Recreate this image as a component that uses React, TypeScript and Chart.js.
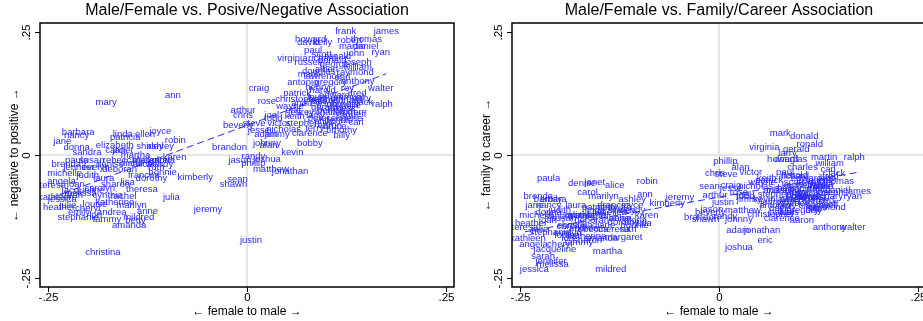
import { useEffect, useRef } from "react";
import { Chart, registerables } from "chart.js";
Chart.register(...registerables);

const names = [
  "frank","james","howard","thomas","robert","daniel","martin","david","kelly","paul",
  "ryan","john","scott","virginia","richard","joseph","russell","george","douglas","raymond",
  "lawrence","anthony","antonio","henry","roy","walter","craig","patrick","christopher","gary",
  "jack","ralph","rose","wayne","gerald","joel","arthur","larry","steve","victor",
  "stephen","carl","jesse","nicholas","timothy","clarence","adam","jimmy","billy","johnny",
  "alan","bobby","kevin","beverly","brandon","jason","joshua","randy","phillip","matthew",
  "jonathan","sean","shawn","justin","jeremy","mark","donald","ronald","william","todd",
  "eric","aaron","kimberly","chris","edward","kenneth","michael","charles","peter","samuel",
  "andrew","dennis","harold","roger","keith","terry","fred","earl","albert","bruce",
  "jeffrey","gregory","louis","eugene","jerry","ernest","willie","jose","sam","benjamin",
  "philip","jeff","tony","leonard",
  "mary","ann","barbara","nancy","linda","jane","patricia","ellen","joyce","robin",
  "donna","elizabeth","ashley","shirley","sandra","martha","margaret","karen","deborah","jennifer",
  "michelle","bonnie","angela","teresa","theresa","julia","katherine","kathleen","marilyn","heather",
  "jessica","louise","anne","andrea","emily","stephanie","mildred","tammy","amanda","christina",
  "paula","denise","janet","alice","carol","brenda","helen","ruth","jacqueline","sarah",
  "melissa","laura","lisa","susan","dorothy","betty","carolyn","judith","rebecca","cynthia",
  "gloria","evelyn","frances","joan","diane","julie","sharon","cheryl","wendy","rachel","lori"
];

// female (-) to male (+)
const femaleToMale = [
  0.124,0.175,0.080,0.150,0.129,0.149,0.132,0.077,0.095,0.083,
  0.168,0.136,0.094,0.057,0.095,0.139,0.077,0.110,0.090,0.136,
  0.095,0.139,0.070,0.088,0.126,0.168,0.015,0.063,0.065,0.144,
  0.148,0.170,0.025,0.054,0.097,0.031,-0.005,0.086,0.009,0.040,
  0.070,0.137,0.015,0.046,0.119,0.079,0.024,0.038,0.119,0.025,
  0.027,0.079,0.057,-0.011,-0.022,-0.009,0.025,0.008,0.008,0.030,
  0.054,-0.012,-0.017,0.005,-0.049,0.077,0.107,0.114,0.139,0.033,
  0.058,0.104,-0.065,-0.005,0.110,0.100,0.120,0.105,0.090,0.128,
  0.075,0.115,0.095,0.130,0.060,0.085,0.140,0.120,0.100,0.110,
  0.068,0.105,0.088,0.125,0.100,0.118,0.130,0.090,0.122,0.112,
  0.098,0.142,0.108,0.125,
  -0.177,-0.093,-0.212,-0.214,-0.156,-0.232,-0.153,-0.128,-0.109,-0.090,
  -0.214,-0.166,-0.109,-0.122,-0.201,-0.140,-0.120,-0.091,-0.160,-0.211,
  -0.229,-0.106,-0.233,-0.244,-0.132,-0.095,-0.166,-0.240,-0.145,-0.236,
  -0.232,-0.191,-0.125,-0.170,-0.211,-0.212,-0.136,-0.176,-0.148,-0.181,
  -0.214,-0.172,-0.156,-0.131,-0.165,-0.227,-0.124,-0.114,-0.206,-0.221,
  -0.209,-0.180,-0.150,-0.195,-0.120,-0.140,-0.185,-0.200,-0.160,-0.175,
  -0.105,-0.190,-0.130,-0.215,-0.145,-0.225,-0.165,-0.200,-0.110,-0.155,-0.190
];

// negative (-) to positive (+)
const negToPos = [
  0.250,0.250,0.234,0.234,0.232,0.220,0.220,0.228,0.228,0.213,
  0.209,0.207,0.205,0.197,0.197,0.189,0.189,0.183,0.169,0.167,
  0.159,0.150,0.148,0.138,0.136,0.136,0.136,0.126,0.112,0.114,
  0.106,0.102,0.108,0.098,0.096,0.081,0.091,0.081,0.065,0.065,
  0.065,0.067,0.049,0.053,0.051,0.043,0.041,0.041,0.039,0.024,
  0.020,0.024,0.006,0.061,0.016,-0.010,-0.008,-0.002,-0.018,-0.030,
  -0.033,-0.049,-0.059,-0.173,-0.110,0.163,0.193,0.201,0.177,0.075,
  0.091,0.061,-0.045,0.080,0.122,0.112,0.102,0.087,0.075,0.118,
  0.104,0.071,0.132,0.087,0.079,0.055,0.126,0.157,0.173,0.059,
  0.087,0.148,0.118,0.075,0.110,0.095,0.100,0.108,0.080,0.090,
  0.068,0.083,0.102,0.110,
  0.106,0.122,0.045,0.039,0.041,0.028,0.035,0.041,0.047,0.030,
  0.016,0.020,0.018,0.018,0.006,0.000,-0.010,-0.004,-0.030,-0.026,
  -0.037,-0.035,-0.053,-0.061,-0.069,-0.087,-0.096,-0.087,-0.102,-0.106,
  -0.091,-0.100,-0.114,-0.116,-0.116,-0.126,-0.126,-0.130,-0.142,-0.197,
  -0.010,-0.020,0.010,-0.020,0.010,-0.020,-0.010,-0.026,-0.071,-0.081,
  -0.077,-0.047,-0.055,-0.010,-0.047,-0.132,-0.067,-0.041,-0.010,-0.081,
  -0.010,-0.026,-0.041,-0.059,-0.016,-0.102,-0.059,-0.108,-0.020,-0.083,-0.122
];

// family (-) to career (+)
const famToCareer = [
  -0.061,-0.073,-0.008,-0.053,-0.063,-0.071,-0.004,-0.108,-0.081,-0.035,
  -0.085,-0.047,-0.055,0.016,-0.043,-0.075,-0.071,-0.083,-0.008,-0.106,
  -0.091,-0.146,-0.102,-0.067,-0.091,-0.146,-0.061,-0.051,-0.120,-0.083,
  -0.037,-0.004,-0.075,-0.055,0.012,-0.081,-0.081,0.004,-0.039,-0.035,
  -0.079,-0.030,-0.067,-0.063,-0.102,-0.128,-0.154,-0.091,-0.112,-0.130,
  -0.026,-0.116,-0.091,-0.116,-0.126,-0.110,-0.187,-0.124,-0.012,-0.112,
  -0.154,-0.063,-0.130,-0.096,-0.087,0.043,0.037,0.022,-0.018,-0.085,
  -0.173,-0.132,-0.098,-0.037,-0.047,-0.061,-0.075,-0.026,-0.091,-0.102,
  -0.071,-0.087,-0.041,-0.055,-0.047,-0.104,-0.043,-0.067,-0.098,-0.079,
  -0.096,-0.112,-0.116,-0.051,-0.075,-0.087,-0.063,-0.094,-0.108,-0.070,
  -0.083,-0.100,-0.059,-0.092,
  -0.122,-0.079,-0.091,-0.102,-0.112,-0.102,-0.106,-0.116,-0.102,-0.053,
  -0.116,-0.122,-0.091,-0.112,-0.124,-0.195,-0.167,-0.122,-0.132,-0.215,
  -0.122,-0.142,-0.181,-0.146,-0.152,-0.138,-0.165,-0.169,-0.083,-0.138,
  -0.232,-0.163,-0.128,-0.148,-0.091,-0.157,-0.232,-0.177,-0.169,-0.142,
  -0.047,-0.057,-0.055,-0.061,-0.075,-0.083,-0.128,-0.150,-0.191,-0.205,
  -0.222,-0.102,-0.116,-0.128,-0.136,-0.106,-0.144,-0.112,-0.152,-0.122,
  -0.132,-0.159,-0.102,-0.132,-0.142,-0.152,-0.173,-0.181,-0.112,-0.122,-0.169
];

// fitted lines (end points)
const fitX = [-0.244, 0.175];
const posFitY = [-0.086, 0.165];
const careerFitY = [-0.156, -0.035];

const tickValues = [-0.25, 0, 0.25];
const tickLabels = ["-.25", "0", ".25"];

const LABEL_COLOR = "rgb(40,40,255)";
const FONT = '"Liberation Sans", Arial, Helvetica, sans-serif';

const decor = {
  id: "decor",
  beforeDatasetsDraw(chart: any) {
    const { ctx, chartArea: a, scales } = chart;
    const x0 = scales.x.getPixelForValue(0);
    const y0 = scales.y.getPixelForValue(0);
    ctx.save();
    ctx.strokeStyle = "#dedede";
    ctx.lineWidth = 1.5;
    ctx.beginPath();
    ctx.moveTo(x0, a.top);
    ctx.lineTo(x0, a.bottom);
    ctx.moveTo(a.left, y0);
    ctx.lineTo(a.right, y0);
    ctx.stroke();
    ctx.restore();
  },
  afterDatasetsDraw(chart: any, _args: any, opts: any) {
    const { ctx, chartArea: a, scales } = chart;
    const meta = chart.getDatasetMeta(0);
    ctx.save();
    ctx.beginPath();
    ctx.rect(a.left, a.top, a.right - a.left, a.bottom - a.top);
    ctx.clip();
    ctx.font = "9.5px " + FONT;
    ctx.fillStyle = LABEL_COLOR;
    ctx.textAlign = "center";
    ctx.textBaseline = "middle";
    meta.data.forEach((pt: any, i: number) => {
      ctx.fillText(names[i], pt.x, pt.y);
    });
    ctx.restore();

    ctx.save();
    // frame
    ctx.strokeStyle = "#000";
    ctx.lineWidth = 1.5;
    ctx.strokeRect(a.left, a.top, a.right - a.left, a.bottom - a.top);
    // ticks
    ctx.lineWidth = 1;
    ctx.fillStyle = "#000";
    ctx.font = "11.5px " + FONT;
    tickValues.forEach((v, i) => {
      const px = Math.round(scales.x.getPixelForValue(v)) + 0.5;
      ctx.beginPath();
      ctx.moveTo(px, a.bottom);
      ctx.lineTo(px, a.bottom + 5);
      ctx.stroke();
      ctx.textAlign = "center";
      ctx.textBaseline = "top";
      ctx.fillText(tickLabels[i], px, a.bottom + 5);

      const py = Math.round(scales.y.getPixelForValue(v)) + 0.5;
      ctx.beginPath();
      ctx.moveTo(a.left, py);
      ctx.lineTo(a.left - 5, py);
      ctx.stroke();
      ctx.save();
      ctx.translate(a.left - 13, py);
      ctx.rotate(-Math.PI / 2);
      ctx.textAlign = "center";
      ctx.textBaseline = "middle";
      ctx.fillText(tickLabels[i], 0, 0);
      ctx.restore();
    });
    // axis titles
    ctx.font = "12px " + FONT;
    ctx.textAlign = "center";
    ctx.textBaseline = "middle";
    ctx.fillText(opts.xTitle, (a.left + a.right) / 2, a.bottom + 25);
    ctx.save();
    ctx.translate(a.left - 25, (a.top + a.bottom) / 2);
    ctx.rotate(-Math.PI / 2);
    ctx.fillText(opts.yTitle, 0, 0);
    ctx.restore();
    // title
    ctx.font = "16px " + FONT;
    ctx.fillText(opts.title, (a.left + a.right) / 2, 11);
    ctx.restore();
  },
};

type PanelProps = {
  left: number;
  width: number;
  padLeft: number;
  padRight: number;
  title: string;
  yTitle: string;
  yVals: number[];
  fitY: number[];
};

function Panel(p: PanelProps) {
  const ref = useRef<HTMLCanvasElement | null>(null);
  useEffect(() => {
    if (!ref.current) return;
    const points = names.map((_, i) => ({ x: femaleToMale[i], y: p.yVals[i] }));
    const fit = fitX.map((x, i) => ({ x, y: p.fitY[i] }));
    const chart = new Chart(ref.current, {
      type: "scatter",
      data: {
        datasets: [
          { data: points, pointRadius: 0, pointHoverRadius: 0, showLine: false },
          {
            data: fit,
            showLine: true,
            pointRadius: 0,
            borderColor: LABEL_COLOR,
            borderWidth: 1,
            borderDash: [7, 4],
            fill: false,
          },
        ],
      },
      options: {
        animation: false,
        responsive: false,
        devicePixelRatio: 1,
        layout: { padding: { left: p.padLeft, right: p.padRight, top: 23, bottom: 34 } },
        scales: {
          x: { type: "linear", min: -0.26, max: 0.26, display: false },
          y: { type: "linear", min: -0.268, max: 0.268, display: false },
        },
        plugins: {
          legend: { display: false },
          tooltip: { enabled: false },
          decor: { title: p.title, yTitle: p.yTitle, xTitle: "\u2190 female to male \u2192" },
        } as any,
      },
      plugins: [decor],
    } as any);
    return () => chart.destroy();
  }, []);
  return (
    <canvas
      ref={ref}
      width={p.width}
      height={321}
      style={{ position: "absolute", left: p.left, top: 0, width: p.width, height: 321 }}
    />
  );
}

export default function App() {
  return (
    <div
      style={{
        position: "absolute",
        left: 0,
        top: 0,
        width: 923,
        height: 321,
        overflow: "hidden",
        background: "#fff",
      }}
    >
      <Panel
        left={0}
        width={465}
        padLeft={40}
        padRight={11}
        title="Male/Female vs. Posive/Negative Association"
        yTitle={"\u2190 negative to positive \u2192"}
        yVals={negToPos}
        fitY={posFitY}
      />
      <Panel
        left={465}
        width={470}
        padLeft={47}
        padRight={9}
        title="Male/Female vs. Family/Career Association"
        yTitle={"\u2190 family to career \u2192"}
        yVals={famToCareer}
        fitY={careerFitY}
      />
    </div>
  );
}
